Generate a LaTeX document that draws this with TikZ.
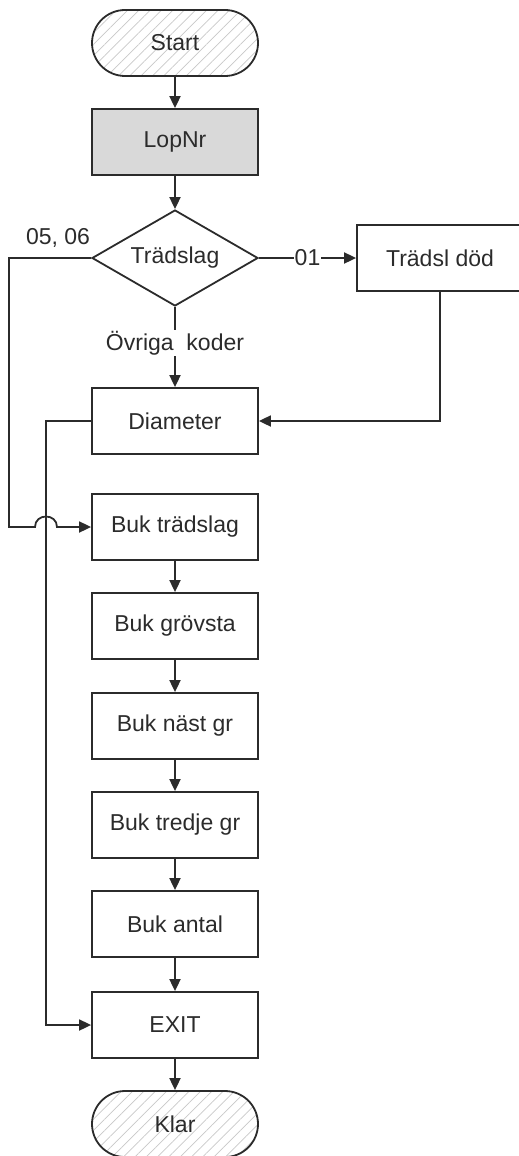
\documentclass[tikz,border=0pt]{standalone}
\usepackage{fontspec}
\setmainfont{Liberation Sans}
\usetikzlibrary{shapes.geometric,arrows.meta,patterns.meta}
\definecolor{linegray}{HTML}{2B2B2B}
\definecolor{boxgray}{HTML}{D9D9D9}
\definecolor{hatchgray}{HTML}{C8C8C8}

\begin{document}
\begin{tikzpicture}[x=1pt,y=-1pt,color=linegray,line width=1.8pt,
    font=\fontsize{23}{27}\selectfont,
    term/.style={draw, rounded corners=33pt, minimum width=166pt, minimum height=66pt,
        pattern={Lines[angle=45,distance=8pt,line width=0.7pt]}, pattern color=hatchgray},
    stepbox/.style={draw, minimum width=166pt, minimum height=66pt},
    decide/.style={draw, diamond, aspect=1.73, minimum width=166pt, minimum height=96pt, inner sep=0pt},
    flow/.style={-{Triangle[length=12pt,width=11pt]}},
    lbl/.style={fill=white, inner sep=1pt}]
    \useasboundingbox (0,0) rectangle (519,1156);
    \clip (0,0) rectangle (519,1156);

    % Start and lopnummer
    \node[term] (start) at (175,43) {Start};
    \node[stepbox, fill=boxgray] (lopnr) at (175,142) {LopNr};
    \draw[flow] (start) -- (lopnr);

    % Tradslag decision
    \node[decide] (tradslag) at (175,258) {Tr\"adslag};
    \node[stepbox] (dod) at (440,258) {Tr\"adsl d\"od};
    \draw[flow] (lopnr) -- (tradslag);
    \draw[flow] (tradslag) -- node[lbl] {01} (dod);
    \node (kod56) at (58,238) {05, 06};

    % Diameter
    \node[stepbox] (diam) at (175,421) {Diameter};
    \draw[flow] (tradslag) -- node[lbl, pos=0.45] {\"Ovriga\ \ koder} (diam);
    \draw[flow] (dod.south) |- (diam.east);

    % Buk chain
    \node[stepbox] (buktrad) at (175,527) {Buk tr\"adslag};
    \node[stepbox] (bukgrov) at (175,626) {Buk gr\"ovsta};
    \node[stepbox] (buknast) at (175,726) {Buk n\"ast gr};
    \node[stepbox] (buktred) at (175,825) {Buk tredje gr};
    \node[stepbox] (bukantal) at (175,924) {Buk antal};
    \node[stepbox] (exit) at (175,1025) {EXIT};
    \node[term] (klar) at (175,1124) {Klar};
    \draw[flow] (buktrad) -- (bukgrov);
    \draw[flow] (bukgrov) -- (buknast);
    \draw[flow] (buknast) -- (buktred);
    \draw[flow] (buktred) -- (bukantal);
    \draw[flow] (bukantal) -- (exit);
    \draw[flow] (exit) -- (klar);

    % Side lines
    \coordinate (leftup) at (9,258);
    \coordinate (jumpa) at (35,527);
    \coordinate (jumpb) at (57,527);
    \draw[flow] (tradslag.west) -- (leftup) |- (jumpa)
        .. controls (35,513) and (57,513) .. (jumpb) -- (buktrad.west);
    \coordinate (diamleft) at (46,421);
    \draw[flow] (diam.west) -- (diamleft) |- (exit.west);
\end{tikzpicture}
\end{document}
